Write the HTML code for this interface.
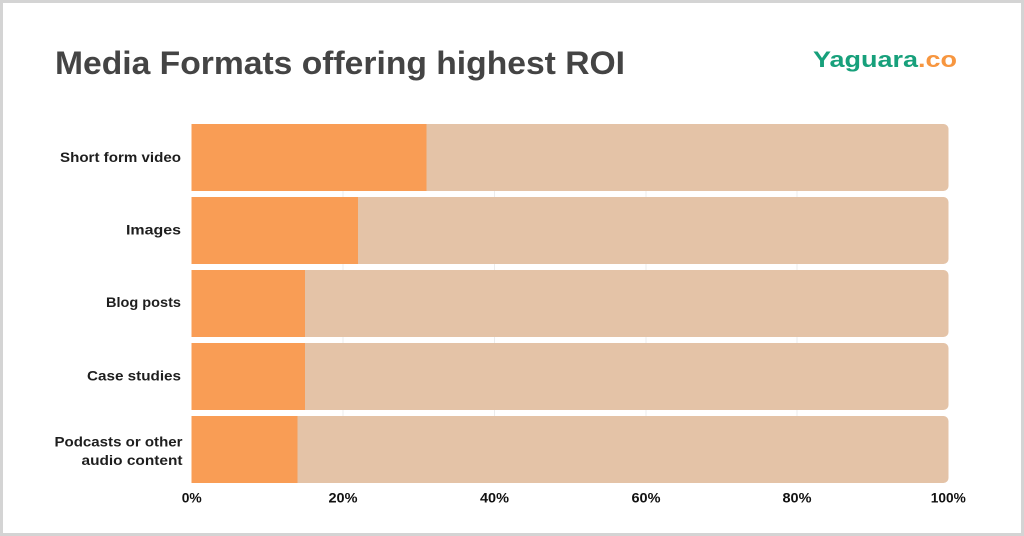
<!DOCTYPE html>
<html><head><meta charset="utf-8"><style>
html,body{margin:0;padding:0;background:#fff;}
svg{display:block;}
text{font-family:"Liberation Sans",sans-serif;font-weight:bold;}
</style></head><body>
<svg width="1024" height="536" viewBox="0 0 1024 536" xmlns="http://www.w3.org/2000/svg">
<rect x="0" y="0" width="1024" height="536" fill="#d4d4d4"/>
<rect x="3" y="3" width="1018" height="530" fill="#ffffff"/>
<text x="55" y="74" font-size="32" fill="#444444" textLength="570" lengthAdjust="spacingAndGlyphs">Media Formats offering highest ROI</text>
<text x="813" y="67" font-size="22" fill="#17a07b" textLength="144" lengthAdjust="spacingAndGlyphs">Yaguara<tspan fill="#f7963f">.co</tspan></text>
<g stroke="#ececec" stroke-width="1">
<line x1="343" y1="124" x2="343" y2="483"/>
<line x1="494.5" y1="124" x2="494.5" y2="483"/>
<line x1="646" y1="124" x2="646" y2="483"/>
<line x1="797" y1="124" x2="797" y2="483"/>
</g>
<g fill="#e4c3a7">
<rect x="191.5" y="124" width="757" height="67" rx="5"/>
<rect x="191.5" y="197" width="757" height="67" rx="5"/>
<rect x="191.5" y="270" width="757" height="67" rx="5"/>
<rect x="191.5" y="343" width="757" height="67" rx="5"/>
<rect x="191.5" y="416" width="757" height="67" rx="5"/>
</g>
<g fill="#f99d55">
<rect x="191.5" y="124" width="235" height="67"/>
<rect x="191.5" y="197" width="166.5" height="67"/>
<rect x="191.5" y="270" width="113.5" height="67"/>
<rect x="191.5" y="343" width="113.5" height="67"/>
<rect x="191.5" y="416" width="106" height="67"/>
</g>
<g font-size="14" fill="#1e1e1e" text-anchor="end">
<text x="181" y="162" textLength="121" lengthAdjust="spacingAndGlyphs">Short form video</text>
<text x="181" y="234.5" textLength="55" lengthAdjust="spacingAndGlyphs">Images</text>
<text x="181" y="307" textLength="75" lengthAdjust="spacingAndGlyphs">Blog posts</text>
<text x="181" y="380.5" textLength="94" lengthAdjust="spacingAndGlyphs">Case studies</text>
<text x="182.5" y="446.5" textLength="128" lengthAdjust="spacingAndGlyphs">Podcasts or other</text>
<text x="182.5" y="465" textLength="101" lengthAdjust="spacingAndGlyphs">audio content</text>
</g>
<g font-size="14" fill="#111111" text-anchor="middle">
<text x="191.7" y="502.5" textLength="20" lengthAdjust="spacingAndGlyphs">0%</text>
<text x="343" y="502.5" textLength="29" lengthAdjust="spacingAndGlyphs">20%</text>
<text x="494.5" y="502.5" textLength="29" lengthAdjust="spacingAndGlyphs">40%</text>
<text x="646" y="502.5" textLength="29" lengthAdjust="spacingAndGlyphs">60%</text>
<text x="797" y="502.5" textLength="29" lengthAdjust="spacingAndGlyphs">80%</text>
<text x="948.3" y="502.5" textLength="35" lengthAdjust="spacingAndGlyphs">100%</text>
</g>
</svg>
</body></html>
